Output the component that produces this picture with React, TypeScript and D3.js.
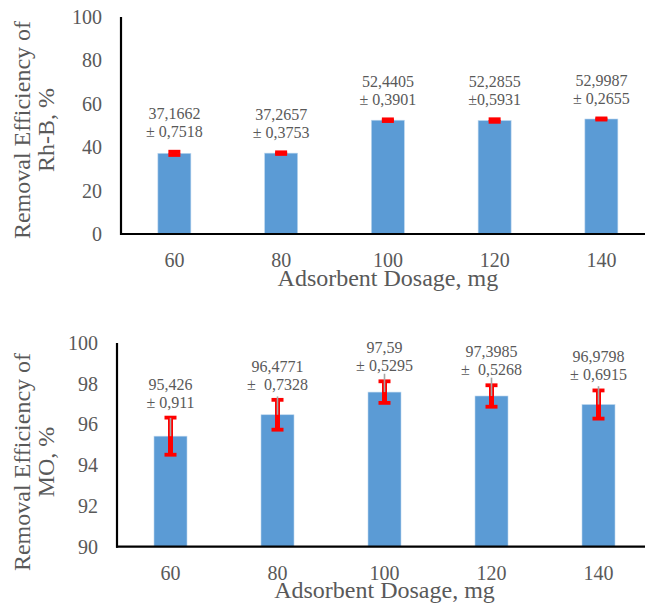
import React from "react";
import * as d3 from "d3";

const categories = ["60", "80", "100", "120", "140"];

const rhbValues = [37.1662, 37.2657, 52.4405, 52.2855, 52.9987];
const rhbErrors = [0.7518, 0.3753, 0.3901, 0.5931, 0.2655];
const rhbValueLabels = ["37,1662", "37,2657", "52,4405", "52,2855", "52,9987"];
const rhbErrorLabels = ["± 0,7518", "± 0,3753", "± 0,3901", "±0,5931", "± 0,2655"];
const rhbTicks = [0, 20, 40, 60, 80, 100];

const moValues = [95.426, 96.4771, 97.59, 97.3985, 96.9798];
const moErrors = [0.911, 0.7328, 0.5295, 0.5268, 0.6915];
const moValueLabels = ["95,426", "96,4771", "97,59", "97,3985", "96,9798"];
const moErrorLabels = ["± 0,911", "±  0,7328", "± 0,5295", "±  0,5268", "± 0,6915"];
const moTicks = [90, 92, 94, 96, 98, 100];
const moPlusGrayError = 0.9;

const xTitle = "Adsorbent Dosage, mg";
const rhbYTitle = ["Removal Efficiency of", "Rh-B, %"];
const moYTitle = ["Removal Efficiency of", "MO, %"];

const FONT = "Liberation Serif, Tinos, Times New Roman, Times, Noto Serif, DejaVu Serif, serif";
const TEXT = "#595959";
const BAR = "#5B9BD5";
const RED = "#FF0000";

type PanelProps = {
  left: number;
  width: number;
  top: number;
  bottom: number;
  domain: [number, number];
  ticks: number[];
  values: number[];
  errors: number[];
  valueLabels: string[];
  errorLabels: string[];
  yTitle: string[];
  titleCenterY: number;
  labelGap: number;
  grayPlus?: number;
};

function Panel(p: PanelProps) {
  const pad = 1 - 33 / (p.width / categories.length);
  const x = d3
    .scaleBand<string>()
    .domain(categories)
    .range([p.left, p.left + p.width])
    .paddingInner(pad)
    .paddingOuter(pad / 2);
  const y = d3.scaleLinear().domain(p.domain).range([p.bottom, p.top]);
  const bw = x.bandwidth();
  const capW = 12;
  const ts = { fontFamily: FONT, fill: TEXT, whiteSpace: "pre" as const };
  return (
    <g>
      {categories.map((c, i) => (
        <rect
          key={"b" + c}
          x={x(c)!}
          y={y(p.values[i])}
          width={bw}
          height={y(p.domain[0]) - y(p.values[i])}
          fill={BAR}
          stroke="#BDD7EE"
          strokeWidth={0.6}
        />
      ))}
      {categories.map((c, i) => {
        const cx = x(c)! + bw / 2;
        const hi = y(p.values[i] + p.errors[i]);
        const lo = y(p.values[i] - p.errors[i]);
        return (
          <g key={"e" + c}>
            <line x1={cx} x2={cx} y1={hi} y2={lo} stroke={RED} strokeWidth={5} />
            <line x1={cx - capW / 2} x2={cx + capW / 2} y1={hi} y2={hi} stroke={RED} strokeWidth={3.8} />
            <line x1={cx - capW / 2} x2={cx + capW / 2} y1={lo} y2={lo} stroke={RED} strokeWidth={3.8} />
            {p.grayPlus !== undefined && (
              <line
                x1={cx}
                x2={cx}
                y1={y(p.values[i])}
                y2={y(p.values[i] + p.grayPlus)}
                stroke="#A6A6A6"
                strokeWidth={1.6}
              />
            )}
          </g>
        );
      })}
      {categories.map((c, i) => {
        const cx = x(c)! + bw / 2;
        const base = y(p.values[i] + p.errors[i]) - p.labelGap;
        return (
          <g key={"l" + c}>
            <text x={cx} y={base - 18} textAnchor="middle" fontSize={16} style={ts}>
              {p.valueLabels[i]}
            </text>
            <text x={cx} y={base} textAnchor="middle" fontSize={16} style={ts}>
              {p.errorLabels[i]}
            </text>
          </g>
        );
      })}
      <line x1={p.left} x2={p.left} y1={p.top} y2={p.bottom + 1} stroke="#000" strokeWidth={2.2} />
      <line x1={p.left - 1} x2={645} y1={p.bottom} y2={p.bottom} stroke="#000" strokeWidth={2.2} />
      {p.ticks.map((t) => (
        <text key={"t" + t} x={p.left - 19} y={y(t) + 7} textAnchor="end" fontSize={20} style={ts}>
          {t}
        </text>
      ))}
      {categories.map((c) => (
        <text key={"x" + c} x={x(c)! + bw / 2} y={p.bottom + 33} textAnchor="middle" fontSize={20} style={ts}>
          {c}
        </text>
      ))}
      <text x={p.left + p.width / 2} y={p.bottom + 51.5} textAnchor="middle" fontSize={24} style={ts}>
        {xTitle}
      </text>
      {p.yTitle.map((line, k) => (
        <text
          key={"yt" + k}
          transform={`translate(${30 + k * 24},${p.titleCenterY}) rotate(-90)`}
          textAnchor="middle"
          fontSize={24}
          style={ts}
        >
          {line}
        </text>
      ))}
    </g>
  );
}

export default function App() {
  return (
    <svg
      width={645}
      height={607}
      viewBox="0 0 645 607"
      style={{ position: "absolute", left: 0, top: 0, background: "#fff" }}
    >
      <rect x={0} y={0} width={645} height={607} fill="#fff" />
      <Panel
        left={121}
        width={533.75}
        top={17}
        bottom={234}
        domain={[0, 100]}
        ticks={rhbTicks}
        values={rhbValues}
        errors={rhbErrors}
        valueLabels={rhbValueLabels}
        errorLabels={rhbErrorLabels}
        yTitle={rhbYTitle}
        titleCenterY={130}
        labelGap={14.5}
      />
      <Panel
        left={117}
        width={535}
        top={343}
        bottom={546.7}
        domain={[90, 100]}
        ticks={moTicks}
        values={moValues}
        errors={moErrors}
        valueLabels={moValueLabels}
        errorLabels={moErrorLabels}
        yTitle={moYTitle}
        titleCenterY={462}
        labelGap={10}
        grayPlus={moPlusGrayError}
      />
    </svg>
  );
}
